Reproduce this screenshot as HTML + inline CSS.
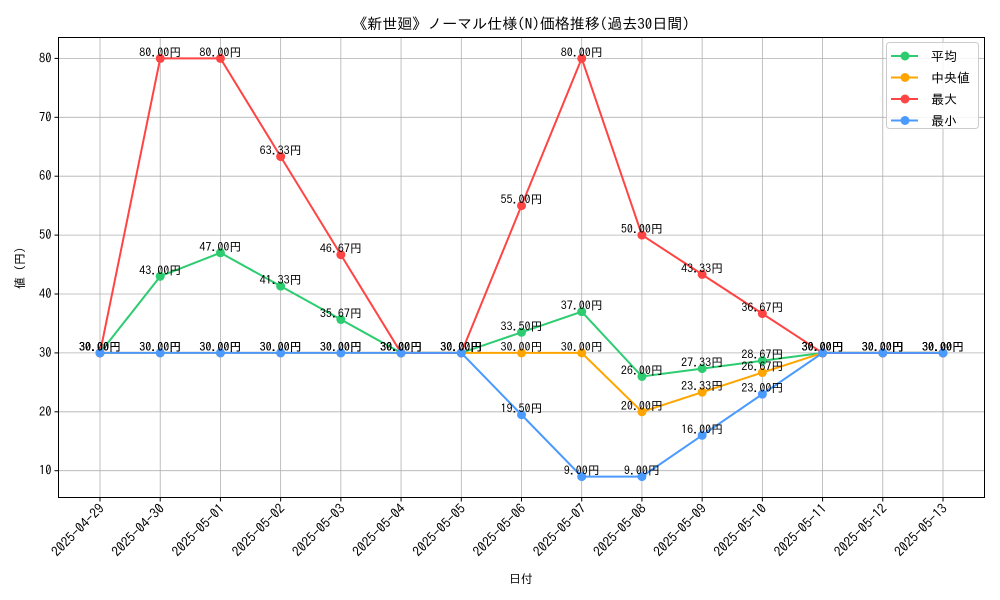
<!DOCTYPE html>
<html><head><meta charset="utf-8">
<style>
html,body{margin:0;padding:0;background:#fff;}
svg{display:block;font-family:"IPAGothic","Liberation Sans","Noto Sans CJK JP",sans-serif;}
</style></head>
<body>
<svg id="chart" width="1000" height="600" viewBox="0 0 1000 600" xmlns="http://www.w3.org/2000/svg">
<rect x="0" y="0" width="1000" height="600" fill="#fff"/>
<text x="521" y="29" font-size="15" text-anchor="middle">《新世廻》ノーマル仕様(N)価格推移(過去30日間)</text>
<text x="521" y="583" font-size="12" text-anchor="middle">日付</text>
<text x="0" y="0" font-size="12" text-anchor="middle" transform="translate(24,268) rotate(-90)">値 (円)</text>
<g id="grid"></g>
<g id="series"></g>
<g id="labels"></g>
<rect x="58.5" y="37.5" width="926" height="460" fill="none" stroke="#000" stroke-width="1"/>
<g id="ticks"></g>
<g id="legend">
<rect x="886.5" y="42.5" width="92" height="86" rx="3" fill="#fff" fill-opacity="0.85" stroke="#ccc"/>
</g>
</svg>
<script>
const dates=["2025-04-29","2025-04-30","2025-05-01","2025-05-02","2025-05-03","2025-05-04","2025-05-05","2025-05-06","2025-05-07","2025-05-08","2025-05-09","2025-05-10","2025-05-11","2025-05-12","2025-05-13"];
const avgVals=[30,43,47,41.33,35.67,30,30,33.5,37,26,27.33,28.67,30,30,30];
const medianVals=[30,30,30,30,30,30,30,30,30,20,23.33,26.67,30,30,30];
const maxVals=[30,80,80,63.33,46.67,30,30,55,80,50,43.33,36.67,30,30,30];
const minVals=[30,30,30,30,30,30,30,19.5,9,9,16,23,30,30,30];
const yTicks=[10,20,30,40,50,60,70,80];
const seriesNames=["平均","中央値","最大","最小"];
const seriesKeys=["avg","median","max","min"];
const seriesColors=["#2ecc71","#ffa500","#ff4444","#4a9aff"];
const allSeries=[avgVals,medianVals,maxVals,minVals];

const NS="http://www.w3.org/2000/svg";
const L=58.5,R=984.5,T=37.5,B=497.5;
const yMin=5.45,yMax=83.55;
const xS=i=>100+i*(943-100)/(dates.length-1);
const yS=v=>B-(v-yMin)/(yMax-yMin)*(B-T);
function mk(tag,attrs,parent){const e=document.createElementNS(NS,tag);for(const k in attrs)e.setAttribute(k,attrs[k]);parent.appendChild(e);return e;}
const grid=document.getElementById('grid'),ticks=document.getElementById('ticks'),ser=document.getElementById('series'),lab=document.getElementById('labels'),leg=document.getElementById('legend');
dates.forEach((d,i)=>{
 const x=xS(i);
 const g=mk('line',{x1:x,x2:x,y1:T,y2:B,stroke:'#b0b0b0','stroke-width':0.8},grid);
 
 
 const tk=mk('line',{x1:x,x2:x,y1:B,y2:B+4,stroke:'#000'},ticks);
 
 
 const t=mk('text',{x:0,y:0,'font-size':13.5,'text-anchor':'end',transform:`translate(${x+5},${B+12}) rotate(-45)`},ticks);
 t.textContent=d;
 
 
});
yTicks.forEach(v=>{
 const y=yS(v);
 const g=mk('line',{x1:L,x2:R,y1:y,y2:y,stroke:'#b0b0b0','stroke-width':0.8},grid);
 
 
 const tk=mk('line',{x1:L-4,x2:L,y1:y,y2:y,stroke:'#000'},ticks);
 
 
 const t=mk('text',{x:L-7,y:y+4,'font-size':12.5,'text-anchor':'end'},ticks);
 t.textContent=v;
 
 
});
allSeries.forEach((vals,s)=>{
 const c=seriesColors[s];
 const p=mk('polyline',{points:vals.map((v,i)=>xS(i)+','+yS(v)).join(' '),fill:'none',stroke:c,'stroke-width':2},ser);
 
 
 vals.forEach((v,i)=>{
  const m=mk('circle',{cx:xS(i),cy:yS(v),r:4.5,fill:c},ser);
  
  
  const t=mk('text',{x:xS(i),y:yS(v)-2,'font-size':12,'text-anchor':'middle'},lab);
  t.textContent=v.toFixed(2)+'円';
  
  
 });
 const ly=56+s*21.5;
 const ll=mk('line',{x1:891,x2:918,y1:ly,y2:ly,stroke:c,'stroke-width':2},leg);
 
 
 const lc=mk('circle',{cx:905,cy:ly,r:4.5,fill:c},leg);
 
 
 const lt=mk('text',{x:931,y:ly+5,'font-size':13},leg);
 lt.textContent=seriesNames[s];
 
 
});
</script>
</body></html>
